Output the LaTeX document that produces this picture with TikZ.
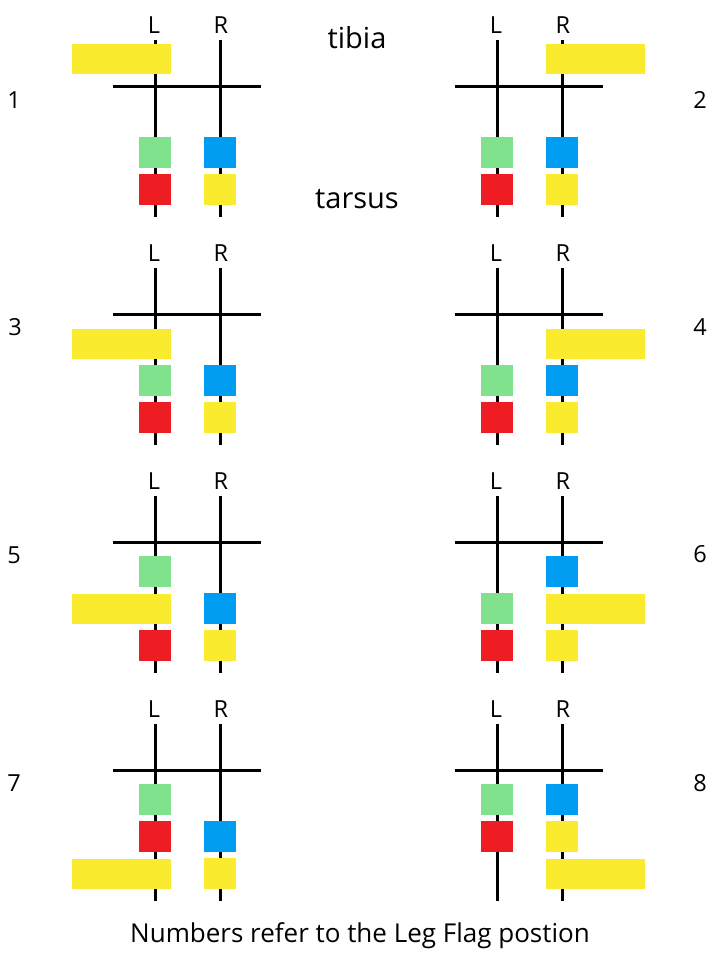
\documentclass[tikz,border=0pt]{standalone}
\usepackage{fontspec}
\setmainfont{Open Sans}
\definecolor{flagyellow}{HTML}{FBEB2E}
\definecolor{flaggreen}{HTML}{80E28C}
\definecolor{flagblue}{HTML}{009DF0}
\definecolor{flagred}{HTML}{EE1D23}
\newcommand\legpanel[3]{%
  \coordinate (#1Lt) at (#2,#3-46);
  \coordinate (#1Lb) at (#2,#3+131);
  \coordinate (#1Rt) at (#2+65,#3-46);
  \coordinate (#1Rb) at (#2+65,#3+131);
  \coordinate (#1Hl) at (#2-42,#3);
  \coordinate (#1Hr) at (#2+106,#3);
  \draw[legline] (#1Lt) -- (#1Lb);
  \draw[legline] (#1Rt) -- (#1Rb);
  \draw[legline] (#1Hl) -- (#1Hr);
  \node[lab] (#1labL) at (#2-1,#3-53) {L};
  \node[lab] (#1labR) at (#2+66,#3-53) {R};
}
\begin{document}
\begin{tikzpicture}[x=1pt,y=-1pt,
  legline/.style={line width=3pt,black},
  lab/.style={font=\fontsize{23.5}{23.5}\selectfont,inner sep=0pt,anchor=base},
  num/.style={font=\fontsize{23.5}{23.5}\selectfont,inner sep=0pt},
  ring/.style={draw=none,minimum width=32pt,minimum height=31pt,inner sep=0pt},
  flag/.style={draw=none,fill=flagyellow,minimum width=99pt,minimum height=30pt,inner sep=0pt},
  word/.style={font=\fontsize{29}{29}\selectfont,inner sep=0pt,anchor=base},
  capt/.style={font=\fontsize{26}{26}\selectfont,inner sep=0pt,anchor=base}]
\useasboundingbox (0,0) rectangle (709,956);
% panels: left xL=155, right xL=497; rows H=86,314,542,770
\legpanel{pa}{155}{86}
\legpanel{pb}{497}{86}
\legpanel{pc}{155}{314}
\legpanel{pd}{497}{314}
\legpanel{pe}{155}{542}
\legpanel{pf}{497}{542}
\legpanel{pg}{155}{770}
\legpanel{ph}{497}{770}
% panel 1
\node[flag] (paF) at (155-33.5,86-27) {};
\node[ring,fill=flaggreen] (paG) at (155,86+66.5) {};
\node[ring,fill=flagred] (paRd) at (155,86+103.5) {};
\node[ring,fill=flagblue] (paB) at (220,86+66.5) {};
\node[ring,fill=flagyellow] (paY) at (220,86+103.5) {};
% panel 2
\node[flag] (pbF) at (562+33.5,86-27) {};
\node[ring,fill=flaggreen] (pbG) at (497,86+66.5) {};
\node[ring,fill=flagred] (pbRd) at (497,86+103.5) {};
\node[ring,fill=flagblue] (pbB) at (562,86+66.5) {};
\node[ring,fill=flagyellow] (pbY) at (562,86+103.5) {};
% panel 3
\node[flag] (pcF) at (155-33.5,314+29.5) {};
\node[ring,fill=flaggreen] (pcG) at (155,314+66.5) {};
\node[ring,fill=flagred] (pcRd) at (155,314+103.5) {};
\node[ring,fill=flagblue] (pcB) at (220,314+66.5) {};
\node[ring,fill=flagyellow] (pcY) at (220,314+103.5) {};
% panel 4
\node[flag] (pdF) at (562+33.5,314+29.5) {};
\node[ring,fill=flaggreen] (pdG) at (497,314+66.5) {};
\node[ring,fill=flagred] (pdRd) at (497,314+103.5) {};
\node[ring,fill=flagblue] (pdB) at (562,314+66.5) {};
\node[ring,fill=flagyellow] (pdY) at (562,314+103.5) {};
% panel 5
\node[ring,fill=flaggreen] (peG) at (155,542+29.5) {};
\node[flag] (peF) at (155-33.5,542+66.5) {};
\node[ring,fill=flagred] (peRd) at (155,542+103.5) {};
\node[ring,fill=flagblue] (peB) at (220,542+66.5) {};
\node[ring,fill=flagyellow] (peY) at (220,542+103.5) {};
% panel 6
\node[ring,fill=flaggreen] (pfG) at (497,542+66.5) {};
\node[ring,fill=flagred] (pfRd) at (497,542+103.5) {};
\node[ring,fill=flagblue] (pfB) at (562,542+29.5) {};
\node[flag] (pfF) at (562+33.5,542+66.5) {};
\node[ring,fill=flagyellow] (pfY) at (562,542+103.5) {};
% panel 7
\node[ring,fill=flaggreen] (pgG) at (155,770+29.5) {};
\node[ring,fill=flagred] (pgRd) at (155,770+66.5) {};
\node[flag] (pgF) at (155-33.5,770+103.5) {};
\node[ring,fill=flagblue] (pgB) at (220,770+66.5) {};
\node[ring,fill=flagyellow] (pgY) at (220,770+103.5) {};
% panel 8
\node[ring,fill=flaggreen] (phG) at (497,770+29.5) {};
\node[ring,fill=flagred] (phRd) at (497,770+66.5) {};
\node[ring,fill=flagblue] (phB) at (562,770+29.5) {};
\node[ring,fill=flagyellow] (phY) at (562,770+66.5) {};
\node[flag] (phF) at (562+33.5,770+103.5) {};
% numbers
\node[num] (n1) at (14,100) {1};
\node[num] (n2) at (700,100) {2};
\node[num] (n3) at (15,327) {3};
\node[num] (n4) at (700,327) {4};
\node[num] (n5) at (14,555) {5};
\node[num] (n6) at (700,554) {6};
\node[num] (n7) at (14,783) {7};
\node[num] (n8) at (700,783) {8};
% words
\node[word] (tibia) at (357,48) {tibia};
\node[word] (tarsus) at (357,208) {tarsus};
\node[capt] (caption) at (360,942) {Numbers refer to the Leg Flag postion};
\end{tikzpicture}
\end{document}
